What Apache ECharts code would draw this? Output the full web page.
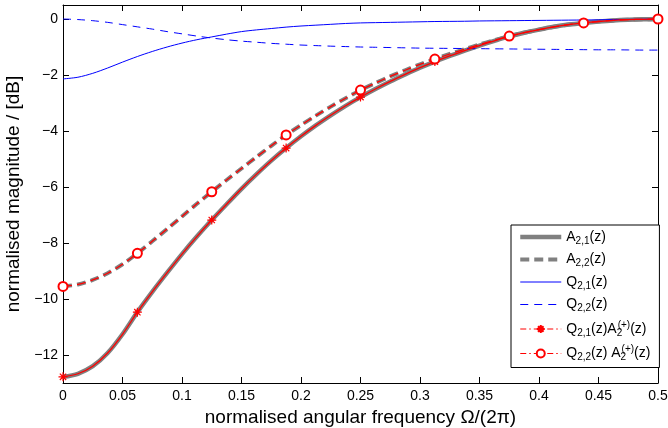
<!DOCTYPE html>
<html>
<head>
<meta charset="utf-8">
<script src="https://cdn.jsdelivr.net/npm/echarts@6/dist/echarts.min.js"></script>
<style>html,body{margin:0;padding:0;background:#fff}#c{width:668px;height:428px}</style>
</head>
<body>
<div id="c"></div>
<script>
const freq = [0, 0.0125, 0.025, 0.0375, 0.05, 0.0625, 0.075, 0.0875, 0.1, 0.1125,
  0.125, 0.1375, 0.15, 0.1625, 0.175, 0.1875, 0.2, 0.2125, 0.225, 0.2375,
  0.25, 0.2625, 0.275, 0.2875, 0.3, 0.3125, 0.325, 0.3375, 0.35, 0.3625,
  0.375, 0.3875, 0.4, 0.4125, 0.425, 0.4375, 0.45, 0.4625, 0.475, 0.4875, 0.5];
const A21 = [-12.78, -12.67, -12.40, -11.93, -11.26, -10.47, -9.745, -9.06, -8.395, -7.77,
  -7.18, -6.615, -6.065, -5.55, -5.06, -4.61, -4.19, -3.80, -3.44, -3.10,
  -2.79, -2.50, -2.23, -1.98, -1.74, -1.52, -1.32, -1.13, -0.95, -0.78,
  -0.62, -0.49, -0.38, -0.28, -0.20, -0.14, -0.09, -0.05, -0.025, -0.01, 0];
const A22 = [-9.55, -9.48, -9.32, -9.08, -8.76, -8.37, -7.94, -7.5, -7.05, -6.6,
  -6.17, -5.75, -5.34, -4.93, -4.53, -4.14, -3.79, -3.45, -3.13, -2.83,
  -2.54, -2.29, -2.05, -1.83, -1.62, -1.43, -1.25, -1.08, -0.91, -0.76,
  -0.61, -0.49, -0.38, -0.28, -0.2, -0.14, -0.09, -0.05, -0.025, -0.01, 0];
const Q21 = [-2.14, -2.08, -1.94, -1.75, -1.54, -1.34, -1.16, -1.0, -0.86, -0.74,
  -0.64, -0.54, -0.45, -0.39, -0.34, -0.29, -0.25, -0.22, -0.19, -0.16,
  -0.14, -0.13, -0.12, -0.11, -0.1, -0.09, -0.085, -0.08, -0.07, -0.065,
  -0.06, -0.055, -0.05, -0.045, -0.04, -0.035, -0.03, -0.02, -0.015, -0.01, 0];
const Q22 = [0, -0.02, -0.06, -0.12, -0.2, -0.28, -0.36, -0.45, -0.53, -0.61,
  -0.68, -0.74, -0.79, -0.83, -0.87, -0.9, -0.93, -0.95, -0.97, -0.985,
  -1.0, -1.01, -1.02, -1.03, -1.04, -1.045, -1.05, -1.055, -1.06, -1.065,
  -1.07, -1.075, -1.08, -1.085, -1.09, -1.095, -1.1, -1.1, -1.105, -1.11, -1.11];
// marker points (every 1/16) for the Q·A2(+) products
const markerStep = 5;
const yTicks = [-12, -10, -8, -6, -4, -2, 0];
const LABELS = {
  A21: '{b|A}{s|2,1}{b|(z)}',
  A22: '{b|A}{s|2,2}{b|(z)}',
  Q21: '{b|Q}{s|2,1}{b|(z)}',
  Q22: '{b|Q}{s|2,2}{b|(z)}',
  P21: '{b|Q}{s|2,1}{b|(z)A}{s0|2}{p|(+)}{b|(z)}',
  P22: '{b|Q}{s|2,2}{b|(z) A}{s0|2}{p|(+)}{b|(z)}'
};

const FONT = '"Liberation Sans", Arial, Helvetica, sans-serif';
const STAR = 'path://M0,-10L0,10M-10,0L10,0M-7,-7L7,7M-7,7L7,-7';
const pair = arr => freq.map((x, i) => [x, arr[i]]);
const markSize = s => (v, p) => (p.dataIndex % markerStep === 0 ? s : 0);
const fmtY = v => (v < 0 ? '\u2212' + Math.abs(v) : String(v));
const NOSYM = {color: 'rgba(0,0,0,0)', borderColor: 'rgba(0,0,0,0)', opacity: 0};

const chart = echarts.init(document.getElementById('c'), null, {renderer: 'canvas'});
chart.setOption({
  animation: false,
  backgroundColor: '#fff',
  textStyle: {fontFamily: FONT},
  grid: {left: 63, right: 10, top: 5, bottom: 45, outerBoundsMode: 'none'},
  xAxis: [{
    type: 'value', min: 0, max: 0.5, interval: 0.05,
    axisLine: {show: true, onZero: false, lineStyle: {color: '#000', width: 1}},
    axisTick: {show: true, inside: true, length: 6, lineStyle: {color: '#000'}},
    axisLabel: {color: '#000', fontSize: 14, fontFamily: FONT, margin: 6},
    splitLine: {show: false},
    name: 'normalised angular frequency \u03A9/(2\u03C0)',
    nameLocation: 'middle', nameGap: 17,
    nameTextStyle: {color: '#000', fontSize: 19, fontFamily: FONT, verticalAlign: 'top'}
  }, {
    type: 'value', min: 0, max: 0.5, interval: 0.05, position: 'top',
    axisLine: {show: true, onZero: false, lineStyle: {color: '#000', width: 1}},
    axisTick: {show: true, inside: true, length: 6, lineStyle: {color: '#000'}},
    axisLabel: {show: false}, splitLine: {show: false}
  }],
  yAxis: [{
    type: 'value', min: -13, max: 0.5,
    axisLine: {show: true, onZero: false, lineStyle: {color: '#000', width: 1}},
    axisTick: {show: true, inside: true, length: 6, customValues: yTicks, lineStyle: {color: '#000'}},
    axisLabel: {color: '#000', fontSize: 14, fontFamily: FONT, margin: 5, customValues: yTicks, formatter: fmtY},
    splitLine: {show: false},
    name: 'normalised magnitude / [dB]',
    nameLocation: 'middle', nameGap: 34,
    nameTextStyle: {color: '#000', fontSize: 19, fontFamily: FONT}
  }, {
    type: 'value', min: -13, max: 0.5, position: 'right',
    axisLine: {show: true, onZero: false, lineStyle: {color: '#000', width: 1}},
    axisTick: {show: true, inside: true, length: 6, customValues: yTicks, lineStyle: {color: '#000'}},
    axisLabel: {show: false}, splitLine: {show: false}
  }],
  legend: {
    orient: 'vertical', left: 511, top: 225,
    itemWidth: 41, itemHeight: 10, itemGap: 6.5,
    padding: [5, 9, 5, 7],
    borderColor: '#000', borderWidth: 1, backgroundColor: '#fff',
    selectedMode: false,
    lineStyle: {width: 'inherit'},
    formatter: name => LABELS[name],
    textStyle: {
      color: '#000', fontFamily: FONT, fontSize: 14,
      rich: {
        b: {fontSize: 14, lineHeight: 18, fontFamily: FONT, color: '#000'},
        s: {fontSize: 10, lineHeight: 6, verticalAlign: 'bottom', fontFamily: FONT, color: '#000'},
        s0: {fontSize: 10, lineHeight: 6, verticalAlign: 'bottom', width: 1, fontFamily: FONT, color: '#000'},
        p: {fontSize: 10, lineHeight: 5, verticalAlign: 'top', fontFamily: FONT, color: '#000'}
      }
    },
    data: [
      {name: 'A21', itemStyle: NOSYM}, {name: 'A22', itemStyle: NOSYM},
      {name: 'Q21', itemStyle: NOSYM}, {name: 'Q22', itemStyle: NOSYM},
      {name: 'P21', lineStyle: {type: [6, 3, 1.5, 3], width: 1, color: '#ff0000'}},
      {name: 'P22', lineStyle: {type: [6, 3, 1.5, 3], width: 1, color: '#ff0000'}}
    ]
  },
  series: [
    {name: 'A21', type: 'line', data: pair(A21), symbol: 'none', smooth: 0.3,
     lineStyle: {color: '#808080', width: 4.5}, itemStyle: {color: '#808080'}},
    {name: 'A22', type: 'line', data: pair(A22), symbol: 'none', smooth: 0.3,
     lineStyle: {color: '#808080', width: 4, type: [9, 5]}, itemStyle: {color: '#808080'}},
    {name: 'Q21', type: 'line', data: pair(Q21), symbol: 'none', smooth: 0.3,
     lineStyle: {color: '#0000ff', width: 1}, itemStyle: {color: '#0000ff'}},
    {name: 'Q22', type: 'line', data: pair(Q22), symbol: 'none', smooth: 0.3,
     lineStyle: {color: '#0000ff', width: 1, type: [8, 6]}, itemStyle: {color: '#0000ff'}},
    {name: 'P21', type: 'line', data: pair(A21), symbol: STAR, symbolSize: markSize(9), smooth: 0.3,
     lineStyle: {color: '#ff0000', width: 1.3},
     itemStyle: {color: '#ff0000', borderColor: '#ff0000', borderWidth: 1.2}},
    {name: 'P22', type: 'line', data: pair(A22), symbol: 'emptyCircle', symbolSize: markSize(9), smooth: 0.3,
     lineStyle: {color: '#ff0000', width: 1.3, type: [9, 5]},
     itemStyle: {color: '#ff0000', borderColor: '#ff0000', borderWidth: 1}}
  ]
});
</script>
</body>
</html>
